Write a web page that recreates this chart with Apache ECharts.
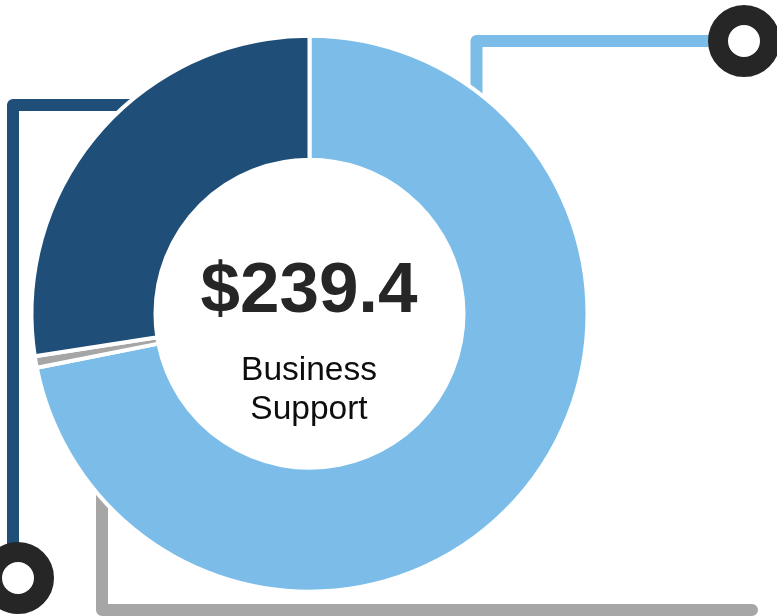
<!DOCTYPE html>
<html>
<head>
<meta charset="utf-8">
<script src="https://cdn.jsdelivr.net/npm/echarts@6/dist/echarts.min.js"></script>
<style>
html,body{margin:0;padding:0;background:#fff;}
#chart{width:777px;height:616px;}
</style>
</head>
<body>
<div id="chart"></div>
<script>
// Data (values in $ millions)
var categories = ['Contracted Services', 'Other', 'Personnel'];
var values = [172.1, 1.6, 65.7];
var colors = ['#7BBDE8', '#A6A6A6', '#1F4E79'];
var totalLabel = '$239.4';
var centerLines = ['Business', 'Support'];

var chart = echarts.init(document.getElementById('chart'), null, {renderer: 'canvas'});
var FONT = '"Liberation Sans", Arial, sans-serif';

var pieData = categories.map(function (c, i) {
  return {name: c, value: values[i], itemStyle: {color: colors[i]}};
});

var option = {
  animation: false,
  backgroundColor: '#ffffff',
  series: [{
    type: 'pie',
    z: 5,
    center: [309.5, 313.7],
    radius: [154, 278],
    startAngle: 90,
    clockwise: true,
    label: {show: false},
    labelLine: {show: false},
    emphasis: {disabled: true},
    silent: true,
    itemStyle: {borderColor: '#ffffff', borderWidth: 4},
    data: pieData
  }],
  graphic: {
    elements: [
      {type: 'polyline', z: 1, silent: true,
        shape: {points: [[476.5, 110], [476.5, 41], [744, 41]]},
        style: {stroke: '#7BBDE8', lineWidth: 12, fill: null, lineJoin: 'round', lineCap: 'butt'}},
      {type: 'polyline', z: 1, silent: true,
        shape: {points: [[150, 105], [13, 105], [13, 570]]},
        style: {stroke: '#1F4E79', lineWidth: 12, fill: null, lineJoin: 'round', lineCap: 'butt'}},
      {type: 'polyline', z: 1, silent: true,
        shape: {points: [[102, 470], [102, 610], [752, 610]]},
        style: {stroke: '#A6A6A6', lineWidth: 12, fill: null, lineJoin: 'round', lineCap: 'round'}},
      {type: 'circle', z: 10, silent: true,
        shape: {cx: 744, cy: 41, r: 26},
        style: {fill: '#ffffff', stroke: '#262626', lineWidth: 20}},
      {type: 'circle', z: 10, silent: true,
        shape: {cx: 18, cy: 578, r: 26},
        style: {fill: '#ffffff', stroke: '#262626', lineWidth: 20}},
      {type: 'text', z: 10, silent: true, x: 309, y: 292,
        style: {text: totalLabel, fill: '#262626', font: 'bold 71px ' + FONT, textAlign: 'center', textVerticalAlign: 'middle'}},
      {type: 'text', z: 10, silent: true, x: 309, y: 371,
        style: {text: centerLines[0], fill: '#0d0d0d', font: '33.5px ' + FONT, textAlign: 'center', textVerticalAlign: 'middle'}},
      {type: 'text', z: 10, silent: true, x: 309, y: 410,
        style: {text: centerLines[1], fill: '#0d0d0d', font: '33.5px ' + FONT, textAlign: 'center', textVerticalAlign: 'middle'}}
    ]
  }
};
chart.setOption(option);
</script>
</body>
</html>
